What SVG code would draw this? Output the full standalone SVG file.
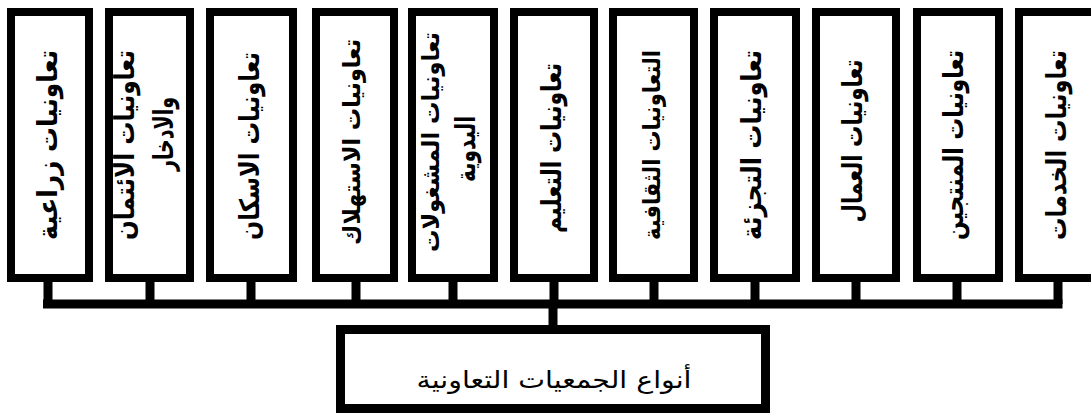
<svg xmlns="http://www.w3.org/2000/svg" width="1091" height="415" viewBox="0 0 1091 415">
<style>
.box{fill:#fff;stroke:#000;stroke-width:8}
.lbl{font-family:"DejaVu Sans",sans-serif;font-weight:bold;font-size:27px;fill:#000;text-anchor:middle;dominant-baseline:central}
.sm{font-size:24px}
.ttl{font-family:"DejaVu Sans",sans-serif;font-size:24px;fill:#000;text-anchor:middle;dominant-baseline:central}
.con{stroke:#000;stroke-width:9;fill:none}
</style>
<rect width="1091" height="415" fill="#fff"/>
<g id="connectors">
<path class="con" d="M48 282V304M150 282V304M251 282V304M356 282V304M453 282V304M554 282V304M654 282V304M755 282V304M856 282V304M957 282V304M1058 282V304"/>
<path class="con" d="M43 304H1062.5"/>
<path class="con" d="M553 304V326"/>
</g>
<g id="n1"><rect class="box" x="11" y="12" width="78" height="266"/><text class="lbl" transform="translate(47,145) rotate(-90)" textLength="190" lengthAdjust="spacingAndGlyphs">تعاونيات زراعية</text></g>
<g id="n2"><rect class="box" x="109" y="12" width="81" height="266"/><text class="lbl" transform="translate(124,145) rotate(-90)" textLength="190" lengthAdjust="spacingAndGlyphs">تعاونيات الائتمان</text><text class="lbl" transform="translate(163,134) rotate(-90)" textLength="74" lengthAdjust="spacingAndGlyphs">والادخار</text></g>
<g id="n3"><rect class="box" x="210" y="12" width="83" height="266"/><text class="lbl" transform="translate(249,146) rotate(-90)" textLength="188" lengthAdjust="spacingAndGlyphs">تعاونيات الاسكان</text></g>
<g id="n4"><rect class="box" x="316" y="12" width="78" height="266"/><text class="lbl sm" transform="translate(352,142) rotate(-90)" textLength="206" lengthAdjust="spacingAndGlyphs">تعاونيات الاستهلاك</text></g>
<g id="n5"><rect class="box" x="412" y="12" width="82" height="266"/><text class="lbl sm" transform="translate(431,142) rotate(-90)" textLength="220" lengthAdjust="spacingAndGlyphs">تعاونيات المشغولات</text><text class="lbl" transform="translate(465,149) rotate(-90)" textLength="66" lengthAdjust="spacingAndGlyphs">اليدوية</text></g>
<g id="n6"><rect class="box" x="514" y="12" width="80" height="266"/><text class="lbl" transform="translate(551,148) rotate(-90)" textLength="170" lengthAdjust="spacingAndGlyphs">تعاونيات التعليم</text></g>
<g id="n7"><rect class="box" x="613" y="12" width="81" height="266"/><text class="lbl sm" transform="translate(652,145) rotate(-90)" textLength="190" lengthAdjust="spacingAndGlyphs">التعاونيات الثقافية</text></g>
<g id="n8"><rect class="box" x="714" y="12" width="82" height="266"/><text class="lbl" transform="translate(751,145) rotate(-90)" textLength="190" lengthAdjust="spacingAndGlyphs">تعاونيات التجزئة</text></g>
<g id="n9"><rect class="box" x="816" y="12" width="80" height="266"/><text class="lbl" transform="translate(852,141) rotate(-90)" textLength="163" lengthAdjust="spacingAndGlyphs">تعاونيات العمال</text></g>
<g id="n10"><rect class="box" x="917" y="12" width="82" height="266"/><text class="lbl" transform="translate(953,145) rotate(-90)" textLength="190" lengthAdjust="spacingAndGlyphs">تعاونيات المنتجين</text></g>
<g id="n11"><rect class="box" x="1019" y="12" width="84" height="266"/><text class="lbl" transform="translate(1056,145) rotate(-90)" textLength="190" lengthAdjust="spacingAndGlyphs">تعاونيات الخدمات</text></g>
<g id="root"><rect x="340.5" y="329.5" width="425" height="79" fill="#fff" stroke="#000" stroke-width="9"/><text class="ttl" x="554" y="380" textLength="275" lengthAdjust="spacingAndGlyphs">أنواع الجمعيات التعاونية</text></g>
</svg>
